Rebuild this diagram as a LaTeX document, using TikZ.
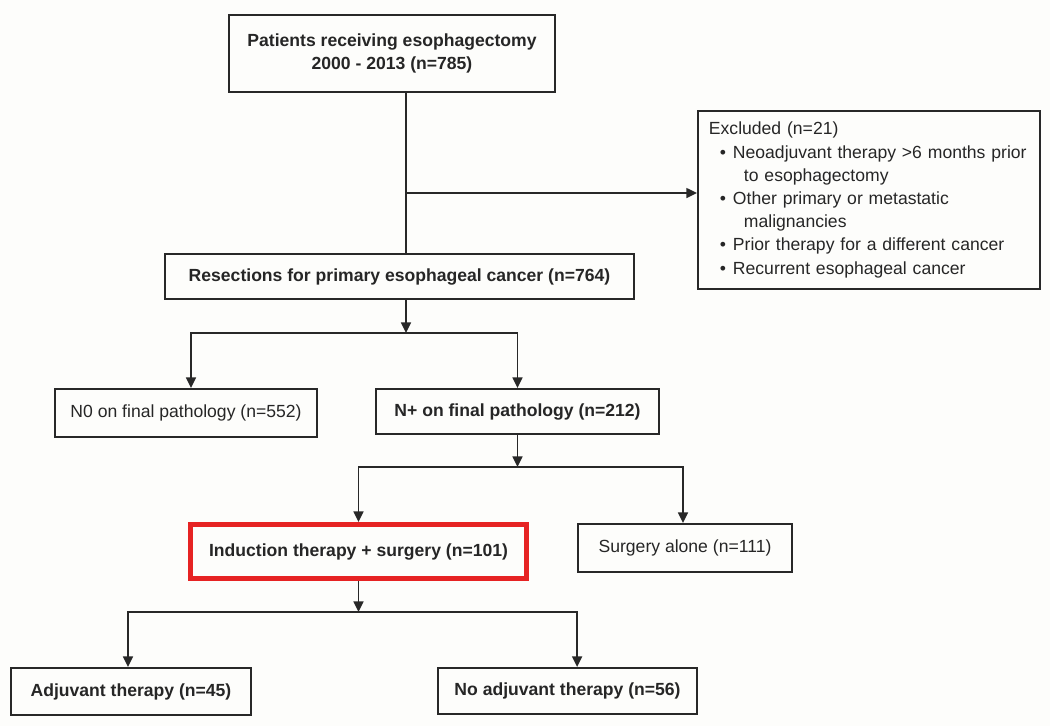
\documentclass[tikz,border=0pt]{standalone}
\usepackage{fontspec}
\setmainfont{Liberation Sans}
\usetikzlibrary{arrows.meta}
\definecolor{chartred}{RGB}{230,35,35}
\definecolor{chartline}{RGB}{40,40,40}
\definecolor{chartbg}{RGB}{253,253,251}
\newcommand{\exitem}[1]{\hspace*{0.27cm}\makebox[0.33cm][l]{\textbullet}#1}
\newcommand{\excont}[1]{\hspace*{0.875cm}#1}

\begin{document}
\begin{tikzpicture}[x=0.025cm,y=-0.025cm,
    box/.style={draw=chartline,line width=1.5pt,inner sep=0pt,align=center,
      font=\fontsize{12.5}{16.5}\selectfont,text=black!85},
    bbox/.style={box,font=\fontsize{12.5}{16.5}\selectfont\bfseries},
    arr/.style={draw=chartline,line width=1.35pt,-{Triangle[length=7.5pt,width=7pt]}},
    link/.style={draw=chartline,line width=1.35pt}]
  \fill[chartbg] (0,0) rectangle (1050,726);
  \useasboundingbox (0,0) rectangle (1050,726);

  % boxes
  \node[bbox,minimum width=8.15cm,minimum height=1.925cm] (patients) at (392,53.5)
    {Patients receiving esophagectomy\\2000 - 2013 (n=785)};
  \node[box,minimum width=8.55cm,minimum height=4.45cm,text width=8.0cm,align=left,
    inner xsep=0.275cm] (excluded) at (869,200)
    {Excluded (n=21)\\
     \exitem{Neoadjuvant therapy >6 months prior}\\
     \excont{to esophagectomy}\\
     \exitem{Other primary or metastatic}\\
     \excont{malignancies}\\
     \exitem{Prior therapy for a different cancer}\\
     \exitem{Recurrent esophageal cancer}};
  \node[bbox,minimum width=11.725cm,minimum height=1.125cm] (resections) at (399.5,276.5)
    {Resections for primary esophageal cancer (n=764)};
  \node[box,minimum width=6.55cm,minimum height=1.2cm] (nzero) at (186,413)
    {N0 on final pathology (n=552)};
  \node[bbox,minimum width=7.075cm,minimum height=1.125cm] (nplus) at (517.5,411.5)
    {N+ on final pathology (n=212)};
  \node[bbox,draw=chartred,line width=3.5pt,minimum width=8.4cm,minimum height=1.35cm]
    (induction) at (358.5,551.5) {Induction therapy + surgery (n=101)};
  \node[box,minimum width=5.35cm,minimum height=1.2cm] (surgery) at (685,548)
    {Surgery alone (n=111)};
  \node[bbox,minimum width=6.0cm,minimum height=1.175cm] (adjuvant) at (131,691.5)
    {Adjuvant therapy (n=45)};
  \node[bbox,minimum width=6.475cm,minimum height=1.15cm] (noadjuvant) at (567.5,691)
    {No adjuvant therapy (n=56)};

  % connectors
  \coordinate (trunk) at (406,193);
  \draw[link] (trunk |- patients.south) -- (trunk |- resections.north);
  \draw[arr] (trunk) -- (trunk -| excluded.west);

  \coordinate (split1) at (406,333);
  \draw[arr] (split1 |- resections.south) -- (split1);
  \draw[arr] (split1) -| ([xshift=0.125cm]nzero.north);
  \draw[arr] (split1) -| (nplus.north);

  \coordinate (split2) at (517.5,467);
  \draw[arr] (nplus.south) -- (split2);
  \draw[arr] (split2) -| (induction.north);
  \draw[arr] (split2) -| ([xshift=-0.05cm]surgery.north);

  \coordinate (split3) at (358.5,612);
  \draw[arr] (induction.south) -- (split3);
  \draw[arr] (split3) -| ([xshift=-0.075cm]adjuvant.north);
  \draw[arr] (split3) -| ([xshift=0.24cm]noadjuvant.north);
\end{tikzpicture}
\end{document}
